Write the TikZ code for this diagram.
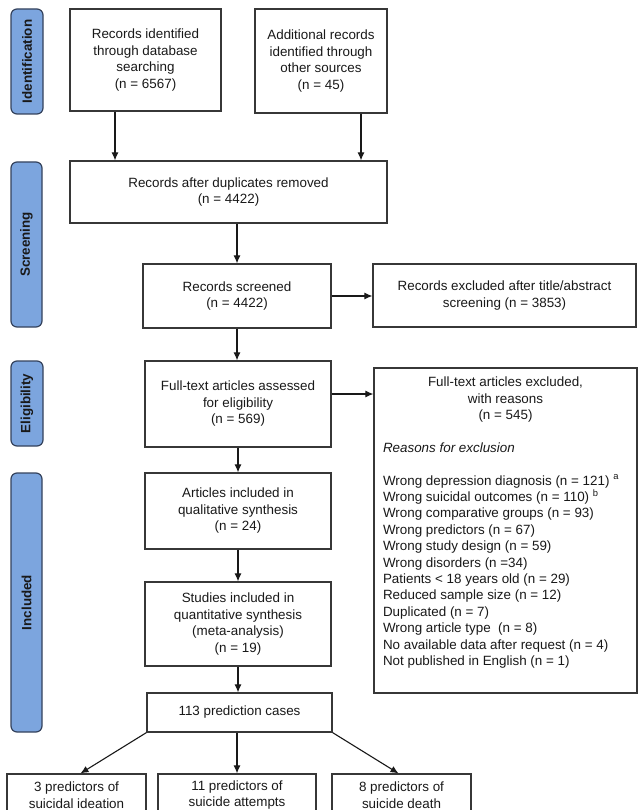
\documentclass[tikz,border=0pt]{standalone}
\usepackage{fontspec}
\setmainfont{Liberation Sans}
\usetikzlibrary{arrows.meta}
\definecolor{labblue}{RGB}{124,165,222}
\definecolor{labedge}{RGB}{52,66,92}
\definecolor{boxedge}{RGB}{55,55,55}
\definecolor{txt}{RGB}{25,25,25}
\newcommand\fsz{\fontsize{13.4}{16.5}\selectfont}
\begin{document}
\begin{tikzpicture}[x=1pt,y=-1pt,
  box/.style={draw=boxedge, line width=1.2pt, fill=white, align=center, inner sep=0pt, text=txt, font=\fsz},
  lab/.style={draw=labedge, fill=labblue, rounded corners=6pt, line width=1.2pt, rotate=90, inner sep=0pt, text=txt, font=\fsz\bfseries},
  arr/.style={-{Latex[length=8pt,width=7pt]}, line width=1.1pt, draw=txt}]
\useasboundingbox (0,0) rectangle (642,810);
\clip (0,0) rectangle (642,810);
% stage labels
\node[lab, minimum width=105pt, minimum height=32pt] (L1) at (27,61.5) {Identification};
\node[lab, minimum width=165pt, minimum height=31pt] (L2) at (26.5,244.5) {Screening};
\node[lab, minimum width=85pt, minimum height=32pt] (L3) at (27,403.5) {Eligibility};
\node[lab, minimum width=259pt, minimum height=31pt] (L4) at (26.5,602.5) {Included};
% boxes
\node[box, minimum width=151pt, minimum height=102pt] (A) at (145.5,60) {Records identified\\through database\\searching\\(n = 6567)};
\node[box, minimum width=132pt, minimum height=104pt] (B) at (321,61) {Additional records\\identified through\\other sources\\(n = 45)};
\node[box, minimum width=317pt, minimum height=62pt] (C) at (228.5,192) {Records after duplicates removed\\(n = 4422)};
\node[box, minimum width=188pt, minimum height=64pt] (D) at (237,296) {Records screened\\(n = 4422)};
\node[box, minimum width=263pt, minimum height=63pt] (E) at (504.5,295.5) {Records excluded after title/abstract\\screening (n = 3853)};
\node[box, minimum width=186pt, minimum height=86pt] (F) at (238,404) {Full-text articles assessed\\for eligibility\\(n = 569)};
\node[box, inner sep=9pt] (G) at (505.5,530.5) {\parbox[c][307pt][t]{245pt}{\fsz\fontsize{13.4}{16.4}\selectfont
  \centering Full-text articles excluded,\\with reasons\\(n = 545)\par
  \vspace{16.4pt}\raggedright\textit{Reasons for exclusion}\par
  \vspace{16.4pt}
  Wrong depression diagnosis (n = 121) \textsuperscript{a}\\
  Wrong suicidal outcomes (n = 110) \textsuperscript{b}\\
  Wrong comparative groups (n = 93)\\
  Wrong predictors (n = 67)\\
  Wrong study design (n = 59)\\
  Wrong disorders (n =34)\\
  Patients < 18 years old (n = 29)\\
  Reduced sample size (n = 12)\\
  Duplicated (n = 7)\\
  Wrong article type\ \ (n = 8)\\
  No available data after request (n = 4)\\
  Not published in English (n = 1)\par}};
\node[box, minimum width=186pt, minimum height=76pt] (H) at (238,511) {Articles included in\\qualitative synthesis\\(n = 24)};
\node[box, minimum width=186pt, minimum height=84pt] (I) at (238,624) {Studies included in\\quantitative synthesis\\(meta-analysis)\\(n = 19)};
\node[box, minimum width=185pt, minimum height=39pt] (J) at (239.5,712.5) {113 prediction cases};
\node[box, minimum width=139pt, minimum height=42pt] (K1) at (76.5,795) {3 predictors of\\suicidal ideation};
\node[box, minimum width=158pt, minimum height=42pt] (K2) at (237,795) {11 predictors of\\suicide attempts};
\node[box, minimum width=139pt, minimum height=42pt] (K3) at (401.5,795) {8 predictors of\\suicide death};
% connectors
\draw[arr] ([xshift=-30.5pt]A.south) -- ([xshift=-30.5pt]A.south |- C.north);
\draw[arr] ([xshift=40pt]B.south) -- ([xshift=40pt]B.south |- C.north);
\draw[arr] (C.south -| D.north) -- (D.north);
\draw[arr] (D.east) -- (D.east -| E.west);
\draw[arr] (D.south) -- (D.south |- F.north);
\draw[arr] ([yshift=10pt]F.east) -- ([yshift=10pt]F.east -| G.west);
\draw[arr] (F.south) -- (H.north);
\draw[arr] (H.south) -- (I.north);
\draw[arr] (I.south) -- (I.south |- J.north);
\draw[arr] (J.south west) -- ([xshift=4pt]K1.north);
\draw[arr] (J.south -| K2.north) -- (K2.north);
\draw[arr] (J.south east) -- ([xshift=-3pt]K3.north);
\end{tikzpicture}
\end{document}
